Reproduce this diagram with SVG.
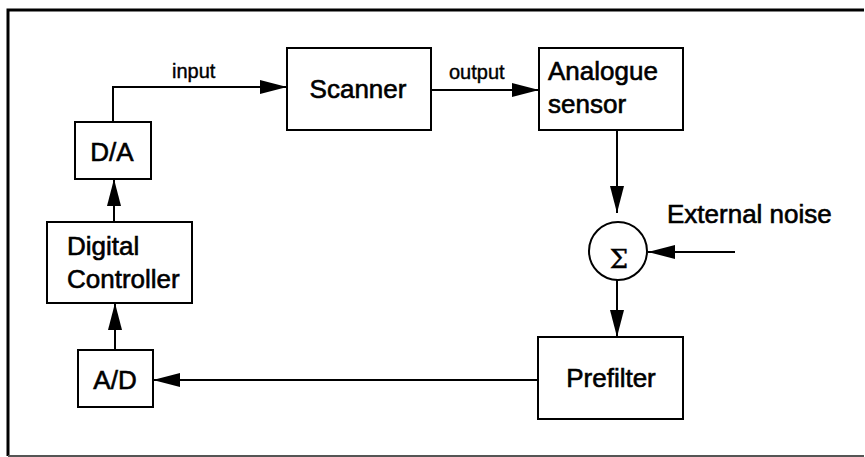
<svg xmlns="http://www.w3.org/2000/svg" width="865" height="457" viewBox="0 0 865 457">
<style>
  .box{fill:#fff;stroke:#000;stroke-width:2}
  .lbl{font-family:"Liberation Sans",Arial,sans-serif;font-size:26px;fill:#000;stroke:#000;stroke-width:0.6}
  .small{font-family:"Liberation Sans",Arial,sans-serif;font-size:20px;fill:#000;stroke:#000;stroke-width:0.4}
  .conn{fill:none;stroke:#000;stroke-width:2;marker-end:url(#ah)}
</style>
<defs>
  <marker id="ah" markerUnits="userSpaceOnUse" markerWidth="28" markerHeight="16" refX="27" refY="7" orient="auto">
    <path d="M0,0 L27,7 L0,14 z" fill="#000"/>
  </marker>
</defs>
<rect width="865" height="457" fill="#fff"/>
<g id="frame">
  <path d="M8,456 L8,10 L864,10" fill="none" stroke="#000" stroke-width="3"/>
  <line x1="8" y1="456" x2="864" y2="456" stroke="#555" stroke-width="2"/>
</g>
<g id="connectors">
  <path class="conn" d="M113,122 L113,87 L287,87"/>
  <path class="conn" d="M431,90 L539,90"/>
  <path class="conn" d="M617,130 L617,213"/>
  <path class="conn" d="M735,252 L648,252"/>
  <path class="conn" d="M617,280 L617,337"/>
  <path class="conn" d="M538,380 L153,380"/>
  <path class="conn" d="M115,350 L115,303"/>
  <path class="conn" d="M114,222 L114,179"/>
</g>
<g id="scanner">
  <rect class="box" x="287" y="48" width="144" height="82"/>
  <text class="lbl" x="358" y="98" text-anchor="middle">Scanner</text>
</g>
<g id="analogue-sensor">
  <rect class="box" x="539" y="48" width="144" height="82"/>
  <text class="lbl" x="548" y="80">Analogue</text>
  <text class="lbl" x="548" y="113">sensor</text>
</g>
<g id="da">
  <rect class="box" x="75" y="122" width="76" height="57"/>
  <text class="lbl" x="112" y="161" text-anchor="middle">D/A</text>
</g>
<g id="digital-controller">
  <rect class="box" x="47" y="222" width="145" height="81"/>
  <text class="lbl" x="67" y="255">Digital</text>
  <text class="lbl" x="67" y="288">Controller</text>
</g>
<g id="ad">
  <rect class="box" x="78" y="350" width="75" height="57"/>
  <text class="lbl" x="115" y="389" text-anchor="middle">A/D</text>
</g>
<g id="prefilter">
  <rect class="box" x="538" y="337" width="145" height="82"/>
  <text class="lbl" x="611" y="387" text-anchor="middle">Prefilter</text>
</g>
<g id="sum">
  <circle cx="618" cy="251" r="29" fill="#fff" stroke="#000" stroke-width="2"/>
  <text x="619" y="268" text-anchor="middle" font-family="DejaVu Serif,serif" font-size="26" stroke="#000" stroke-width="0.4">Σ</text>
</g>
<g id="labels">
  <text class="small" x="172" y="78">input</text>
  <text class="small" x="449" y="79">output</text>
  <text class="lbl" x="667" y="223">External noise</text>
</g>
</svg>
